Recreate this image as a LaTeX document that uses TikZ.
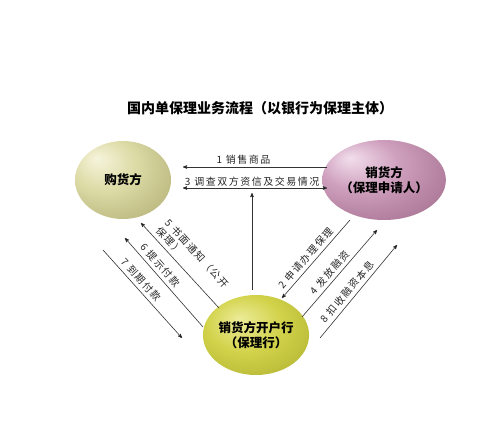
\documentclass[tikz,border=0pt]{standalone}
\usepackage{fontspec}
\usetikzlibrary{arrows,shapes.geometric}
\newfontfamily\cjk{Noto Sans CJK SC}
\newfontfamily\cjklbl{Noto Sans CJK SC}[LetterSpace=15]

\definecolor{buyhi}{HTML}{F6F4DC}
\definecolor{buymid}{HTML}{DEDCA8}
\definecolor{buylow}{HTML}{B0AE72}
\definecolor{buyedge}{HTML}{85834C}
\definecolor{selhi}{HTML}{F2DEEC}
\definecolor{selmid}{HTML}{CFA0BE}
\definecolor{sellow}{HTML}{A06A8A}
\definecolor{seledge}{HTML}{6E3E5C}
\definecolor{bnkhi}{HTML}{ECEC9A}
\definecolor{bnkmid}{HTML}{D2D24A}
\definecolor{bnklow}{HTML}{A6AA2A}
\definecolor{bnkedge}{HTML}{767C14}

\pgfdeclareradialshading{buyshade}{\pgfpoint{-14bp}{14bp}}{color(0bp)=(buyhi); color(16bp)=(buymid); color(42bp)=(buylow); color(62bp)=(buyedge)}
\pgfdeclareradialshading{selshade}{\pgfpoint{-14bp}{14bp}}{color(0bp)=(selhi); color(16bp)=(selmid); color(42bp)=(sellow); color(62bp)=(seledge)}
\pgfdeclareradialshading{bnkshade}{\pgfpoint{-8bp}{10bp}}{color(0bp)=(bnkhi); color(18bp)=(bnkmid); color(44bp)=(bnklow); color(62bp)=(bnkedge)}

\begin{document}
\begin{tikzpicture}[x=1pt,y=-1pt,>=stealth',
    main node/.style={ellipse,inner sep=0pt,align=center,
      font=\cjk\bfseries\fontsize{12.5}{15}\selectfont},
    flow/.style={draw=black!80,line width=0.6pt},
    step label/.style={font=\cjklbl\fontsize{10}{12}\selectfont,
      text=black!85,inner sep=1.5pt}]
  \useasboundingbox (0,0) rectangle (502,438);

  \node[font=\cjk\bfseries\fontsize{14}{16}\selectfont] (TTL) at (260,108) {国内单保理业务流程（以银行为保理主体）};

  \node[main node,shading=buyshade,minimum width=96pt,minimum height=78pt] (BUY) at (123,180) {购货方};
  \node[main node,shading=selshade,minimum width=92pt,minimum height=80pt] (SEL) at (384,180) {销货方\\（保理申请人）};
  \node[main node,shading=bnkshade,minimum width=98pt,minimum height=80pt] (BNK) at (256,335) {销货方开户行\\（保理行）};

  % free ends of the flows
  \coordinate (S1) at (327,167); \coordinate (B1) at (183,167);
  \coordinate (B3) at (183,188); \coordinate (S3) at (327,188);
  \coordinate (K3) at (252,290); \coordinate (M3) at (252,193);
  \coordinate (B5) at (141,223); \coordinate (K5) at (219,308);
  \coordinate (B6) at (125,238); \coordinate (K6) at (203,327);
  \coordinate (B7) at (103,250); \coordinate (K7) at (182,338);
  \coordinate (K2) at (282,298); \coordinate (S2) at (350,220);
  \coordinate (K4) at (302,317); \coordinate (S4) at (377,230);
  \coordinate (K8) at (320,338); \coordinate (S8) at (397,245);

  \path[flow,every node/.style={step label}]
    (S1) edge[->] node[above=1pt,pos=0.58] {1 销售商品} (B1)
    (B3) edge[<->] node[above,pos=0.48] {3 调查双方资信及交易情况} (S3)
    (K3) edge[->] (M3)
    (B5) edge[<-] node[sloped,above=2pt,pos=0.52,align=left] {5 书面通知（公开\\保理）} (K5)
    (B6) edge[<-] node[sloped,above=2pt,pos=0.37] {6 提示付款} (K6)
    (B7) edge[->] node[sloped,above=2pt,pos=0.4] {7 到期付款} (K7)
    (K2) edge[<-] node[sloped,above=2pt,pos=0.44] {2 申请办理保理} (S2)
    (K4) edge[->] node[sloped,above=2pt,pos=0.45] {4 发放融资} (S4)
    (K8) edge[->] node[sloped,above=2pt,pos=0.44] {8 扣收融资本息} (S8)
  ;
\end{tikzpicture}
\end{document}
